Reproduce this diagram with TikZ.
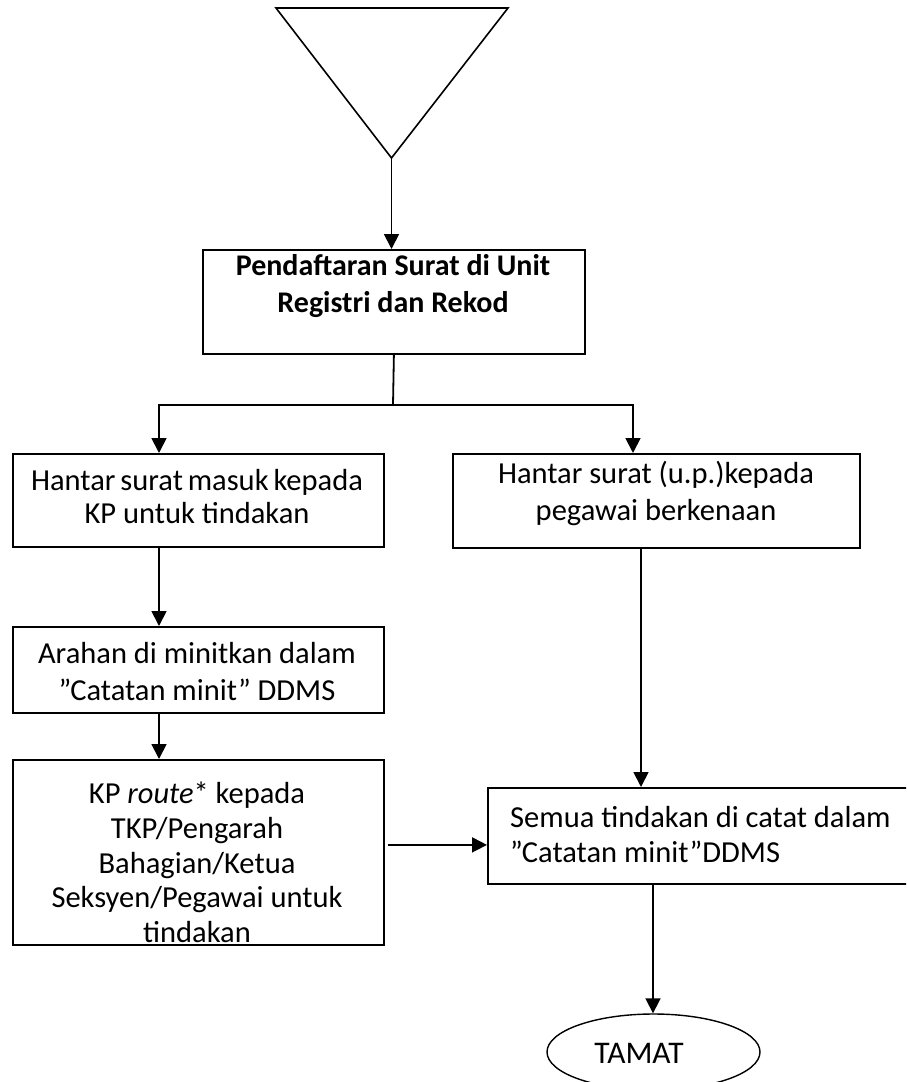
\documentclass[tikz,border=0pt]{standalone}
\usepackage{fontspec}
\setmainfont{Carlito}
\usetikzlibrary{arrows.meta,shapes.geometric}
\begin{document}
\begin{tikzpicture}[x=1pt,y=-1pt,
  line/.style={line width=1.8pt},
  arr/.style={line width=1.8pt,-{Triangle[width=15pt,length=15pt]}},
  box/.style={draw,line width=1.8pt,inner sep=0pt,anchor=north west},
  txt/.style={align=center,inner sep=0pt,font=\fontsize{30.5}{34}\selectfont}
]
\useasboundingbox (0,0) rectangle (906,1082);
\clip (0,0) rectangle (906,1082);

% start triangle
\draw[line width=1.6pt,line join=miter] (276,8) -- (508,8) -- (391.5,158) -- cycle;
\coordinate (apex) at (391.5,158);

% boxes
\node[box,minimum width=382pt,minimum height=104pt] (b1) at (202,249) {};
\node[box,minimum width=371pt,minimum height=93pt]  (b2) at (12,453) {};
\node[box,minimum width=407pt,minimum height=94pt]  (b3) at (452,453) {};
\node[box,minimum width=371pt,minimum height=86pt]  (b4) at (12,626) {};
\node[box,minimum width=371pt,minimum height=185pt] (b5) at (12,759) {};
\node[box,minimum width=450pt,minimum height=96pt]  (b6) at (487,787) {};
\node[draw,ellipse,line width=1.4pt,minimum width=213pt,minimum height=76pt,inner sep=0pt] (e) at (653.5,1052) {};

% texts
\node[txt,font=\bfseries\fontsize{30}{37}\selectfont] (t1) at (393,286.5) {Pendaftaran Surat di Unit\\Registri dan Rekod};
\node[txt,font=\fontsize{30.5}{33}\selectfont] (t2) at (197,496.5) {Hantar\hspace{-2pt} surat\hspace{-2pt} masuk\hspace{-2pt} kepada\\KP untuk tindakan};
\node[txt,font=\fontsize{30.5}{37}\selectfont] (t3) at (656,493.5) {Hantar surat (u.p.)kepada\\pegawai berkenaan};
\node[txt,font=\fontsize{30.5}{37}\selectfont] (t4) at (197,671.5) {Arahan di minitkan dalam\\”Catatan minit” DDMS};
\node[txt,font=\fontsize{30.5}{34.75}\selectfont] (t5) at (197,862.5) {KP \textit{route}* kepada\\TKP/Pengarah\\Bahagian/Ketua\\Seksyen/Pegawai untuk\\tindakan};
\node[txt,align=left,anchor=west,font=\fontsize{30.5}{35}\selectfont] (t6) at (510,834.5) {Semua tindakan di catat dalam\\”Catatan minit”DDMS};
\node[txt,font=\fontsize{31.5}{35}\selectfont] (tamat) at (639,1053) {TAMAT};

% connectors
\draw[arr] (apex) -- (apex |- b1.north);
\coordinate (split) at (393,405);
\draw[line] (b1.south) -- (split);
\draw[arr] (split) -| ([xshift=147pt]b2.north west);
\draw[arr] (split) -| ([xshift=181pt]b3.north west);
\draw[arr] ([xshift=147pt]b2.south west) -- ([xshift=147pt]b4.north west);
\draw[arr] ([xshift=147pt]b4.south west) -- ([xshift=147pt]b5.north west);
\coordinate (b3out) at ([xshift=189pt]b3.south west);
\draw[arr] (b3out) -- (b3out |- b6.north);
\coordinate (b6in) at ([yshift=-9pt]b6.west);
\draw[arr,shorten <=3pt] (b5.east |- b6in) -- (b6in);
\coordinate (b6out) at ([xshift=166pt]b6.south west);
\draw[arr] (b6out) -- (b6out |- e.north);
\end{tikzpicture}
\end{document}
